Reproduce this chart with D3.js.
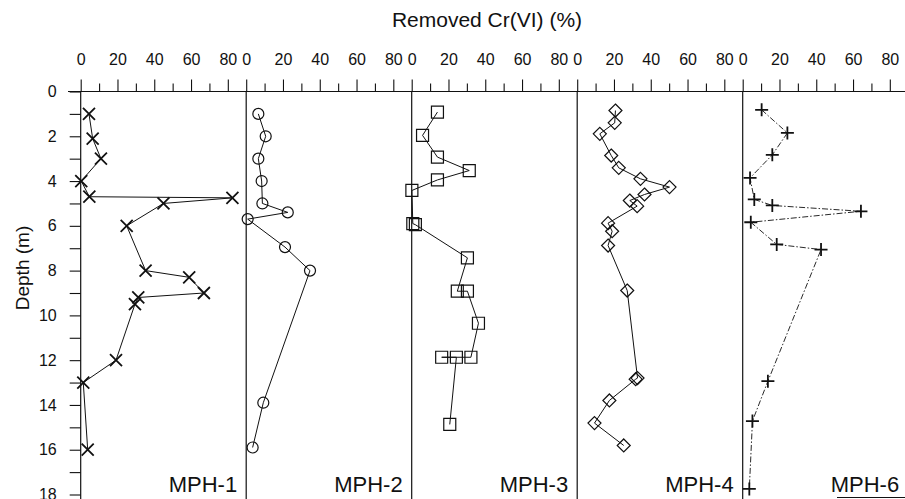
<html>
<head>
  <meta charset="utf-8">
  <title>Removed Cr(VI) by depth</title>
  <script src="https://d3js.org/d3.v7.min.js"></script>
  <style>
    body { margin: 0; background: #fff; }
    text { font-family: "Liberation Sans", Arial, sans-serif; fill: #111; }
  </style>
</head>
<body>
  <svg id="chart" width="905" height="499"></svg>
  <script>
    // borehole names, in panel order
    var wells = ["MPH-1", "MPH-2", "MPH-3", "MPH-4", "MPH-6"];

    // depth (m) and removed Cr(VI) (%) for each borehole
    var mph1Depth = [1.0, 2.1, 3.0, 4.0, 4.7, 4.75, 5.0, 6.0, 8.0, 8.3, 9.0, 9.2, 9.5, 12.0, 13.0, 16.0];
    var mph1Value = [4.5, 6.5, 11, 0.3, 4.7, 82.5, 45, 25, 35.3, 59, 67, 31.3, 29.5, 19.2, 1.4, 3.8];

    var mph2Depth = [1.0, 2.0, 3.0, 4.0, 5.0, 5.4, 5.7, 6.95, 8.0, 13.9, 15.9];
    var mph2Value = [6.6, 10.6, 6.6, 8.4, 8.8, 22.6, 0.8, 21.1, 34.7, 9.3, 3.5];

    var mph3Depth = [0.92, 1.96, 2.93, 3.53, 3.95, 4.42, 5.9, 5.95, 7.43, 8.92, 8.92, 10.35, 11.87, 11.87, 11.87, 14.87];
    var mph3Value = [14, 5.9, 14, 31.3, 14, 0.1, 0.6, 2.0, 30.3, 24.8, 30.3, 36.3, 32.2, 16.3, 24.3, 20.7];

    var mph4Depth = [0.85, 1.4, 1.89, 2.86, 3.41, 3.9, 4.27, 4.6, 4.87, 5.12, 5.88, 6.24, 6.88, 8.89, 12.8, 12.85, 13.8, 14.81, 15.81];
    var mph4Value = [20.8, 20.4, 12.3, 18.5, 22.6, 34.4, 50.2, 36.6, 28.6, 32.6, 16.8, 19, 16.8, 27.2, 32.8, 31.8, 17.5, 9.4, 25.3];

    var mph6Depth = [0.82, 1.85, 2.83, 3.86, 4.82, 5.09, 5.35, 5.84, 6.83, 7.06, 12.94, 14.72, 17.75];
    var mph6Value = [10.3, 24.3, 16.1, 4.0, 6.3, 16.1, 64.3, 4.4, 18.5, 42.6, 13.7, 5.3, 3.6];

    var markers = ["x", "circle", "square", "diamond", "plus"];
    var depths = [mph1Depth, mph2Depth, mph3Depth, mph4Depth, mph6Depth];
    var values = [mph1Value, mph2Value, mph3Value, mph4Value, mph6Value];

    var majorTicks = [0, 20, 40, 60, 80];
    var minorTicks = [10, 30, 50, 70];
    var depthTicks = [0, 2, 4, 6, 8, 10, 12, 14, 16, 18];
    var depthMinor = [1, 3, 5, 7, 9, 11, 13, 15, 17];

    var svg = d3.select("#chart");
    var left0 = 80.7, panelW = 165.5, axisY = 91.5;

    var y = d3.scaleLinear().domain([0, 18]).range([axisY, 494.5]);

    // title
    svg.append("text")
      .attr("x", 487).attr("y", 27)
      .attr("text-anchor", "middle")
      .style("font-size", "21px")
      .text("Removed Cr(VI) (%)");

    // depth label
    svg.append("text")
      .attr("transform", "translate(29,268) rotate(-90)")
      .attr("text-anchor", "middle")
      .style("font-size", "19px")
      .text("Depth (m)");

    // top axis line
    svg.append("line")
      .attr("x1", 68).attr("x2", 905)
      .attr("y1", axisY).attr("y2", axisY)
      .attr("stroke", "#111").attr("stroke-width", 1.2);

    // left depth axis
    var yAxis = svg.append("g").attr("transform", "translate(" + left0 + ",0)");
    yAxis.call(d3.axisLeft(y).tickValues(depthTicks).tickSize(11).tickPadding(13));
    yAxis.append("g").call(d3.axisLeft(y).tickValues(depthMinor).tickSize(11).tickFormat(""));
    yAxis.selectAll(".domain").remove();
    yAxis.selectAll("line").attr("stroke", "#111").attr("stroke-width", 1.1);
    yAxis.selectAll("text").style("font-size", "16px").attr("fill", "#111")
      .style("font-family", "'Liberation Sans', Arial, sans-serif");

    function markerPath(kind, s) {
      if (kind == "x") return "M" + -s + "," + -s + "L" + s + "," + s + "M" + -s + "," + s + "L" + s + "," + -s;
      if (kind == "plus") return "M" + -s + ",0L" + s + ",0M0," + -s + "L0," + s;
      if (kind == "square") return "M" + -s + "," + -s + "H" + s + "V" + s + "H" + -s + "Z";
      if (kind == "diamond") return "M0," + -s + "L" + s + ",0L0," + s + "L" + -s + ",0Z";
      return d3.arc()({innerRadius: 0, outerRadius: s, startAngle: 0, endAngle: 2 * Math.PI});
    }

    wells.forEach(function(name, i) {
      var x0 = left0 + i * panelW;
      var x = d3.scaleLinear().domain([0, 90]).range([x0, x0 + panelW]);
      var g = svg.append("g");

      // panel separator / zero line
      g.append("line")
        .attr("x1", x0).attr("x2", x0)
        .attr("y1", axisY).attr("y2", 499)
        .attr("stroke", "#111").attr("stroke-width", 1.2);

      var ax = g.append("g").attr("transform", "translate(0," + axisY + ")");
      ax.call(d3.axisTop(x).tickValues(majorTicks).tickSize(12).tickPadding(15));
      ax.append("g").call(d3.axisTop(x).tickValues(minorTicks).tickSize(8).tickFormat(""));
      ax.selectAll(".domain").remove();
      ax.selectAll("line").attr("stroke", "#111").attr("stroke-width", 1.1);
      ax.selectAll("text").style("font-size", "16px").attr("fill", "#111")
        .style("font-family", "'Liberation Sans', Arial, sans-serif");

      var pts = depths[i].map(function(d, k) { return [values[i][k], d]; });

      var line = d3.line()
        .x(function(p) { return x(p[0]); })
        .y(function(p) { return y(p[1]); });

      g.append("path")
        .attr("d", line(pts))
        .attr("fill", "none")
        .attr("stroke", "#111")
        .attr("stroke-width", i == 4 ? 0.9 : 1)
        .attr("stroke-dasharray", i == 4 ? "6,2,1.5,2" : null);

      var size = { x: 6, circle: 5.5, square: 6, diamond: 6.5, plus: 6.5 }[markers[i]];
      g.selectAll(".mk").data(pts).enter()
        .append("path")
        .attr("class", "mk")
        .attr("transform", function(p) { return "translate(" + x(p[0]) + "," + y(p[1]) + ")"; })
        .attr("d", markerPath(markers[i], size))
        .attr("fill", "none")
        .attr("stroke", "#111")
        .attr("stroke-width", markers[i] == "x" || markers[i] == "plus" ? 1.8 : 1.2);

      g.append("text")
        .attr("x", x0 + panelW - 9).attr("y", 492)
        .attr("text-anchor", "end")
        .style("font-size", "22px")
        .text(name);
    });

    // short rule under the last label
    svg.append("line")
      .attr("x1", 837).attr("x2", 905)
      .attr("y1", 497.5).attr("y2", 497.5)
      .attr("stroke", "#111").attr("stroke-width", 1.2);
  </script>
</body>
</html>
